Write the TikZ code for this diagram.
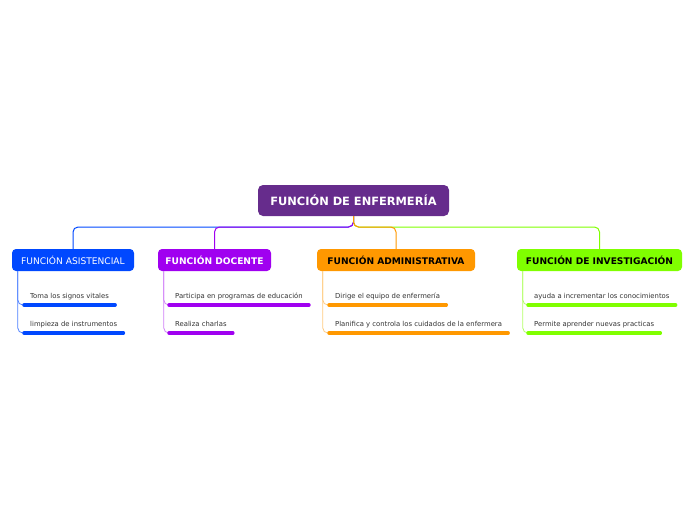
\documentclass[tikz,border=0pt]{standalone}
\usepackage{fontspec}
\setmainfont{DejaVu Sans}
\definecolor{raiz}{RGB}{102,44,140}
\definecolor{azul}{RGB}{0,72,255}
\definecolor{morado}{RGB}{160,0,240}
\definecolor{naranja}{RGB}{255,152,0}
\definecolor{verde}{RGB}{128,255,0}

\begin{document}
\begin{tikzpicture}[x=1pt,y=-1pt,
  raizbox/.style={fill=raiz,rounded corners=5pt,minimum width=191pt,minimum height=31pt,
    inner sep=0pt,text=white,font=\fontsize{11.4}{13}\selectfont\bfseries},
  rama/.style={rounded corners=4pt,minimum height=22pt,inner sep=0pt,font=\fontsize{9.1}{11}\selectfont},
  ramab/.style={rama,font=\fontsize{9.1}{11}\selectfont\bfseries},
  hoja/.style={anchor=south west,inner xsep=6pt,inner ysep=4.5pt,text=black!80,
    text height=5.2pt,text depth=1.6pt,font=\fontsize{6.85}{8}\selectfont},
  enlace/.style={line width=1pt,rounded corners=5pt},
  rayita/.style={line width=0.8pt,rounded corners=5pt},
  subr/.style={line width=3.5pt,line cap=round}]
 \useasboundingbox (0,0) rectangle (696,520);
 % Main topic
 \node[raizbox] (enf) at (353.5,200.5) {FUNCIÓN DE ENFERMERÍA};
 % Four branches
 \node[rama,fill=azul,text=white,minimum width=122pt] (asis) at (73,260) {FUNCIÓN ASISTENCIAL};
 \node[ramab,fill=morado,text=white,minimum width=113pt] (doc) at (214.5,260) {FUNCIÓN DOCENTE};
 \node[ramab,fill=naranja,text=black,minimum width=158pt] (adm) at (396,260) {FUNCIÓN ADMINISTRATIVA};
 \node[ramab,fill=verde,text=black,minimum width=165pt] (inv) at (599.5,260) {FUNCIÓN DE INVESTIGACIÓN};
 \coordinate (cruce) at (353.5,227);
 \draw[enlace,azul] (enf.south) -- (cruce) -| (asis.north);
 \draw[enlace,verde] (enf.south) -- (cruce) -| (inv.north);
 \draw[enlace,morado] (enf.south) -- (cruce) -| (doc.north);
 \draw[enlace,naranja] (enf.south) -- (cruce) -| (adm.north);
 % Leaves
 \node[hoja] (a1) at (24,305) {Toma los signos vitales};
 \node[hoja] (a2) at (24,333) {limpieza de instrumentos};
 \node[hoja] (d1) at (169,305) {Participa en programas de educación};
 \node[hoja] (d2) at (169,333) {Realiza charlas};
 \node[hoja] (m1) at (329,305) {Dirige el equipo de enfermería};
 \node[hoja] (m2) at (329,333) {Planifica y controla los cuidados de la enfermera};
 \node[hoja] (i1) at (528,305) {ayuda a incrementar los conocimientos};
 \node[hoja] (i2) at (528,333) {Permite aprender nuevas practicas};
 \coordinate (asisT) at ([xshift=6pt]asis.south west);
 \coordinate (docT) at ([xshift=6pt]doc.south west);
 \coordinate (admT) at ([xshift=6pt]adm.south west);
 \coordinate (invT) at ([xshift=6pt]inv.south west);
 \draw[rayita,azul!70] (asisT) |- (a1.south west);
 \draw[rayita,azul!70] (asisT) |- (a2.south west);
 \draw[rayita,morado!50] (docT) |- (d1.south west);
 \draw[rayita,morado!50] (docT) |- (d2.south west);
 \draw[rayita,naranja!50] (admT) |- (m1.south west);
 \draw[rayita,naranja!50] (admT) |- (m2.south west);
 \draw[rayita,verde!60] (invT) |- (i1.south west);
 \draw[rayita,verde!60] (invT) |- (i2.south west);
 \draw[subr,azul] (a1.south west) -- (a1.south east);
 \draw[subr,azul] (a2.south west) -- (a2.south east);
 \draw[subr,morado] (d1.south west) -- (d1.south east);
 \draw[subr,morado] (d2.south west) -- (d2.south east);
 \draw[subr,naranja] (m1.south west) -- (m1.south east);
 \draw[subr,naranja] (m2.south west) -- (m2.south east);
 \draw[subr,verde] (i1.south west) -- (i1.south east);
 \draw[subr,verde] (i2.south west) -- (i2.south east);
\end{tikzpicture}
\end{document}
